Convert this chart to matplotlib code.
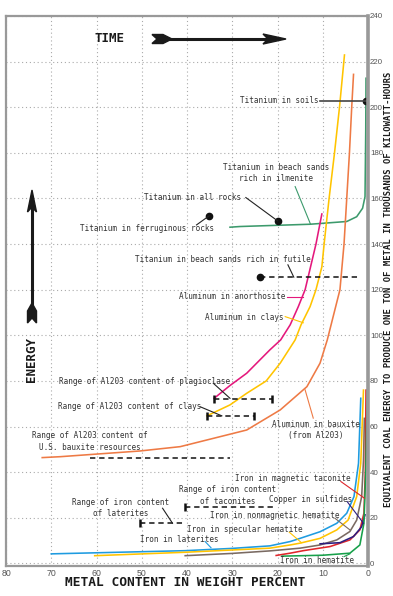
import matplotlib
matplotlib.use("Agg")
import matplotlib.pyplot as plt
from matplotlib.patches import Polygon
from matplotlib.lines import Line2D

# titanium (green, upper)
ti_x = [30.5, 28.3, 12.8, 4.7, 2.5, 1.2, 0.66, 0.5, 0.44]
ti_y = [147.4, 147.7, 148.7, 149.9, 152, 155.7, 160.8, 190, 212.7]

# aluminum curves
al_baux_x = [72, 68, 50.4, 41.5, 26.8, 19.4, 13.5, 10.6, 9.0, 6.2, 5.3, 4.7, 4.1, 3.6, 3.2]
al_baux_y = [46.4, 46.8, 49.3, 51.2, 58.5, 67.3, 77.5, 87.8, 98, 120, 140, 160, 180, 200, 214.4]
al_clay_x = [35.6, 30.5, 26.8, 22.5, 19.4, 16.1, 14.8, 12.8, 11.5, 10.2, 9.7, 8.6, 7.4, 6.3, 5.2]
al_clay_y = [64.7, 69.5, 74.6, 80, 87.8, 98, 104.6, 112.6, 120, 130, 140, 160, 180, 200, 222.9]
al_anor_x = [34, 30.5, 26.8, 21.7, 19.3, 17.2, 15.4, 13.9, 12.7, 11.5, 10.2]
al_anor_y = [72.4, 78, 83.4, 93.6, 98, 104.6, 112.6, 120, 130, 140, 153.2]

# iron and copper curves
fe_lat_x = [70, 40.4, 30, 21.7, 17.2, 15, 10.6, 6.9, 4.7, 3.1, 2.1, 1.6]
fe_lat_y = [4.2, 5.6, 6.6, 7.7, 9.6, 11, 13.9, 17.6, 22, 29.3, 43.9, 72.4]
fe_spec_x = [60.4, 40.4, 21.7, 17.2, 15, 10.6, 6.9, 4.4, 2.5, 1.6, 1.0]
fe_spec_y = [3.4, 4.9, 6.7, 8.1, 8.9, 11, 14.7, 19, 29.3, 43.9, 76]
fe_nonmag_x = [40.4, 30, 21.7, 15, 10.6, 6.9, 4, 2.5, 1.4, 1.0, 0.8]
fe_nonmag_y = [3.4, 4.4, 5.5, 6.7, 8.1, 10.3, 14, 19, 29.3, 45, 63.6]
fe_tac_x = [20.3, 17.2, 14.3, 8.4, 4, 1.8, 0.9, 0.6, 0.44]
fe_tac_y = [3.5, 4.5, 5.6, 7.4, 10.3, 14.7, 22, 40, 76]
cu_x = [10.6, 6.2, 3.2, 1.4, 0.66]
cu_y = [8.6, 9.1, 11.8, 16.1, 21.3]
fe_hem_x = [19, 10, 4, 1.8, 0.9, 0.5, 0.15]
fe_hem_y = [3.2, 3.6, 4.5, 8.1, 17.6, 40, 76]

# ranges of metal content: (from, to, energy level, end ticks)
ranges = [
    (34, 21.3, 72, True, True),      # plagioclase
    (35.6, 25.3, 64.5, True, True),  # clays
    (61.4, 30.5, 46.3, False, False),  # US bauxite
    (40.4, 20.3, 24.6, True, False),   # taconites
    (50.4, 40.4, 17.6, True, False),   # laterites
]
rutile = (23.9, 2.1, 125.5)

# single points
pt_ferr = (35.1, 152.4)
pt_all = (20, 150.2)
pt_soil = (0.44, 202.8)

c_yel = "#FFC400"
c_mag = "#E4187C"
c_ora = "#EE7A45"
c_tig = "#3C9A6C"
c_blu = "#1E9BE0"
c_red = "#E0262B"
c_brn = "#7A6A62"
c_pur = "#2E1F7F"
c_grn = "#17A04A"
txt_c = "#333333"
mono = "DejaVu Sans Mono"

fig = plt.figure(figsize=(3.93, 5.96), dpi=100)
ax = fig.add_axes([0.0153, 0.0508, 0.9211, 0.9224])
ax.set_xlim(80, 0)
ax.set_ylim(-1, 240)
ax.set_xticks(range(0, 81, 10))
ax.set_yticks(range(0, 241, 20))
ax.grid(True, linestyle=(0, (1, 2.5)), color="#aaaaaa", lw=0.8)
ax.yaxis.tick_right()
ax.tick_params(length=0, labelsize=6.3, labelcolor="#555555", pad=2)
ax.tick_params(axis="y", labelsize=5.7, pad=1.5)
for t in ax.get_xticklabels() + ax.get_yticklabels():
    t.set_family(["Liberation Sans Narrow", "Liberation Sans"])
for s in ax.spines.values():
    s.set_color("#999999")
    s.set_linewidth(1.6)
ax.spines["right"].set_linewidth(2.6)

lw = 1.15
ax.plot(ti_x, ti_y, color=c_tig, lw=lw)
ax.plot(al_baux_x, al_baux_y, color=c_ora, lw=lw)
ax.plot(al_clay_x, al_clay_y, color=c_yel, lw=lw)
ax.plot(al_anor_x, al_anor_y, color=c_mag, lw=lw)
ax.plot(fe_lat_x, fe_lat_y, color=c_blu, lw=lw)
ax.plot(fe_spec_x, fe_spec_y, color=c_yel, lw=lw)
ax.plot(fe_nonmag_x, fe_nonmag_y, color=c_brn, lw=lw)
ax.plot(fe_tac_x, fe_tac_y, color=c_red, lw=lw)
ax.plot(cu_x, cu_y, color=c_pur, lw=lw)
ax.plot(fe_hem_x, fe_hem_y, color=c_grn, lw=lw)

for x0, x1, yv, t0, t1 in ranges:
    ax.plot([x0, x1], [yv, yv], color="#111111", lw=1.1, dashes=(3.5, 2.5))
    if t0:
        ax.plot(x0, yv, marker="|", ms=6, mew=1.8, color="#111111")
    if t1:
        ax.plot(x1, yv, marker="|", ms=6, mew=1.8, color="#111111")

ax.plot([rutile[0], rutile[1]], [rutile[2], rutile[2]], color="#111111", lw=1.1, dashes=(3.5, 2.5))
ax.plot(rutile[0], rutile[2], "o", color="#111111", ms=4.5)
for p in (pt_ferr, pt_all, pt_soil):
    ax.plot(*p, "o", color="#111111", ms=4.5)


def leader(x0, y0, x1, y1, color="#222222", w=0.8):
    ax.plot([x0, x1], [y0, y1], color=color, lw=w)


def label(x, y, s, ha="left", ls=1.3):
    ax.text(x, y, s, ha=ha, va="center", fontsize=5.5, family=mono,
            color=txt_c, linespacing=ls, multialignment="center")


# titanium labels
label(28.3, 202.8, "Titanium in soils")
leader(10.6, 202.8, pt_soil[0], pt_soil[1], color="#444444", w=1.2)
label(20.4, 171.1, "Titanium in beach sands\nrich in ilmenite", ha="center")
leader(16.1, 165.2, 12.7, 148.7, color=c_tig)
label(49.6, 160.5, "Titanium in all rocks")
leader(27.0, 160.4, pt_all[0], pt_all[1])
label(63.6, 147, "Titanium in ferruginous rocks")
leader(37.9, 148.4, pt_ferr[0], pt_ferr[1])
label(51.5, 133.1, "Titanium in beach sands rich in futile")
leader(17.7, 130.9, 16.4, 125.5)

# aluminum labels
label(18.2, 117, "Aluminum in anorthosite", ha="right")
leader(17.8, 117, 14.3, 117, color=c_mag)
label(18.7, 107.9, "Aluminum in clays", ha="right")
leader(18.3, 108.2, 14.3, 105.5, color=c_yel)
label(30.5, 79.7, "Range of Al203 content of plagioclase", ha="right")
leader(34.2, 79, 30.5, 72.4)
label(36.8, 68.7, "Range of Al203 content of clays", ha="right")
leader(37.1, 68.7, 32.3, 64.7)
label(61.4, 53.6, "Range of Al203 content of\nU.S. bauxite resources", ha="center", ls=1.4)
label(11.5, 58.6, "Aluminum in bauxite\n(from Al203)", ha="center")
leader(13.9, 76.1, 12.1, 63.7, color=c_ora)

# iron and copper labels
label(31.0, 29.8, "Range of iron content\nof taconites", ha="center")
label(54.6, 24.3, "Range of iron content\nof laterites", ha="center", ls=1.4)
leader(45.4, 24.2, 43.2, 17.6)
label(29.4, 37.4, "Iron in magnetic taconite")
leader(6.0, 35.9, 0.8, 28.6, color=c_red)
label(21.8, 28.2, "Copper in sulfides")
leader(4.6, 27.1, 1.0, 17.6, color=c_pur)
label(34.9, 21, "Iron in nonmagnetic hematite")
leader(7.3, 19.8, 4.0, 14.7, color=c_brn)
label(40.1, 14.7, "Iron in specular hematite")
leader(17.4, 13.7, 14.7, 9.1, color=c_yel)
label(50.4, 10.3, "Iron in laterites")
leader(36, 9.6, 34.7, 6.9, color=c_blu)
label(19.4, 1.2, "Iron in hematite")
leader(5.3, 3.0, 4.0, 4.2, color=c_grn)


# Time / Energy arrows, placed in figure pixels
W, H = 393.0, 596.0


def fpx(pts):
    return [(x / W, 1 - y / H) for x, y in pts]


ink = "#1a1a1a"
fig.add_artist(Line2D([165 / W, 272 / W], [1 - 39 / H, 1 - 39 / H], color=ink, lw=2.2))
fig.add_artist(Polygon(fpx([(172, 39), (163, 34.5), (152, 34.5), (157, 39), (152, 43.5), (163, 43.5)]),
                       closed=True, color=ink, transform=fig.transFigure))
fig.add_artist(Polygon(fpx([(263, 34), (286, 39), (263, 44), (268, 39)]),
                       closed=True, color=ink, transform=fig.transFigure))
fig.text(109.5 / W, 1 - 39 / H, "TIME", ha="center", va="center", fontsize=9,
         family=mono, weight="bold", color=ink)

fig.add_artist(Line2D([32 / W, 32 / W], [1 - 208 / H, 1 - 310 / H], color=ink, lw=2.2))
fig.add_artist(Polygon(fpx([(32, 190), (36.5, 212), (32, 207), (27.5, 212)]),
                       closed=True, color=ink, transform=fig.transFigure))
fig.add_artist(Polygon(fpx([(32, 303), (36.5, 311), (36.5, 323), (32, 318), (27.5, 323), (27.5, 311)]),
                       closed=True, color=ink, transform=fig.transFigure))
fig.text(32 / W, 1 - 360 / H, "ENERGY", ha="center", va="center", rotation=90,
         fontsize=9, family=mono, weight="bold", color=ink)

fig.text(185 / W, 1 - 583 / H, "METAL CONTENT IN WEIGHT PERCENT", ha="center",
         va="center", fontsize=9.3, family=mono, weight="bold", color=ink)
fig.text(388.8 / W, 1 - 289 / H,
         "EQUIVALENT COAL ENERGY TO PRODUCE ONE TON OF METAL IN THOUSANDS OF KILOWATT-HOURS",
         ha="center", va="center", rotation=90, fontsize=6.4, family=mono,
         weight="bold", color=ink)

fig.savefig("out.png", dpi=100)
